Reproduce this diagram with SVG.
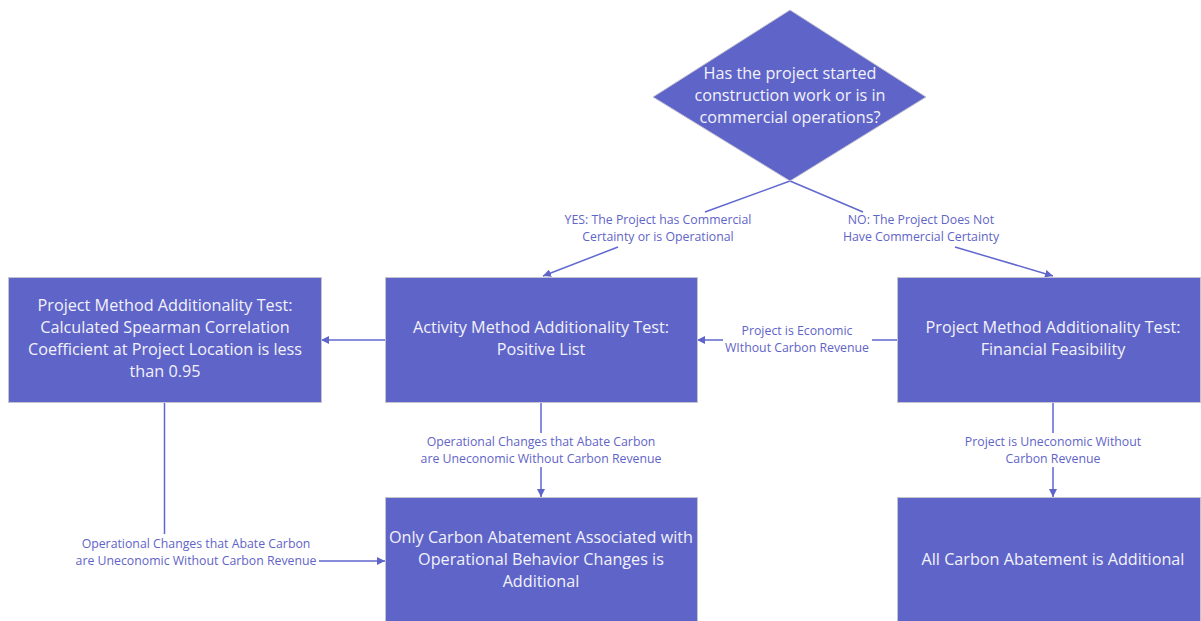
<svg xmlns="http://www.w3.org/2000/svg" width="1201" height="621" viewBox="0 0 1201 621">
<style>
.box{fill:#5f64c8;stroke:#c4c4d0;stroke-width:1}
.bt{font-family:"Open Sans","Liberation Sans",sans-serif;font-size:16.2px;fill:#f2f2fa;text-anchor:middle}
.lb{font-family:"Open Sans","Liberation Sans",sans-serif;font-size:12.3px;fill:#5f64c8;text-anchor:middle}
.cn{fill:none;stroke:#6168d0;stroke-width:1.5}
</style>
<defs>
<marker id="ah" viewBox="0 0 10 10" refX="10" refY="5" markerWidth="8" markerHeight="8" markerUnits="userSpaceOnUse" orient="auto">
<path d="M0,0 L10,5 L0,10 z" fill="#5f64c8"/>
</marker>
</defs>
<rect width="1201" height="621" fill="#ffffff"/>
<g id="connectors">
<path class="cn" d="M790,181 L705,212 M618,247 L543,276" marker-end="url(#ah)"/>
<path class="cn" d="M790,181 L863,212 M955,247 L1053,276" marker-end="url(#ah)"/>
<path class="cn" d="M897,340 L872,340 M723,340 L697,340" marker-end="url(#ah)"/>
<path class="cn" d="M385,340 L321,340" marker-end="url(#ah)"/>
<path class="cn" d="M541,402 L541,433 M541,467 L541,497" marker-end="url(#ah)"/>
<path class="cn" d="M1053,402 L1053,433 M1053,467 L1053,497" marker-end="url(#ah)"/>
<path class="cn" d="M164.5,402 L164.5,534 M319,561 L385,561" marker-end="url(#ah)"/>
<text class="lb" x="658" y="224">YES: The Project has Commercial</text>
<text class="lb" x="658" y="241">Certainty or is Operational</text>
<text class="lb" x="921" y="224">NO: The Project Does Not</text>
<text class="lb" x="921" y="241">Have Commercial Certainty</text>
<text class="lb" x="797" y="335">Project is Economic</text>
<text class="lb" x="797" y="352">WIthout Carbon Revenue</text>
<text class="lb" x="541" y="446">Operational Changes that Abate Carbon</text>
<text class="lb" x="541" y="463">are Uneconomic Without Carbon Revenue</text>
<text class="lb" x="1053" y="446">Project is Uneconomic Without</text>
<text class="lb" x="1053" y="463">Carbon Revenue</text>
<text class="lb" x="196" y="548">Operational Changes that Abate Carbon</text>
<text class="lb" x="196" y="565">are Uneconomic Without Carbon Revenue</text>
</g>
<g id="decision">
<polygon class="box" points="790,10 926,97 790,181 653,97" stroke="none"/>
<text class="bt" x="790" y="79">Has the project started</text>
<text class="bt" x="790" y="101">construction work or is in</text>
<text class="bt" x="790" y="123">commercial operations?</text>
</g>
<g id="spearman">
<rect class="box" x="8.5" y="277.5" width="313" height="125"/>
<text class="bt" x="165" y="311">Project Method Additionality Test:</text>
<text class="bt" x="165" y="333">Calculated Spearman Correlation</text>
<text class="bt" x="165" y="355">Coefficient at Project Location is less</text>
<text class="bt" x="165" y="377">than 0.95</text>
</g>
<g id="activity">
<rect class="box" x="385.5" y="277.5" width="312" height="125"/>
<text class="bt" x="541" y="333">Activity Method Additionality Test:</text>
<text class="bt" x="541" y="355">Positive List</text>
</g>
<g id="financial">
<rect class="box" x="897.5" y="277.5" width="303" height="125"/>
<text class="bt" x="1053" y="333">Project Method Additionality Test:</text>
<text class="bt" x="1053" y="355">Financial Feasibility</text>
</g>
<g id="only-operational">
<rect class="box" x="385.5" y="497.5" width="312" height="130"/>
<text class="bt" x="541" y="543">Only Carbon Abatement Associated with</text>
<text class="bt" x="541" y="565">Operational Behavior Changes is</text>
<text class="bt" x="541" y="587">Additional</text>
</g>
<g id="all-additional">
<rect class="box" x="897.5" y="497.5" width="303" height="130"/>
<text class="bt" x="1053" y="565">All Carbon Abatement is Additional</text>
</g>
</svg>
